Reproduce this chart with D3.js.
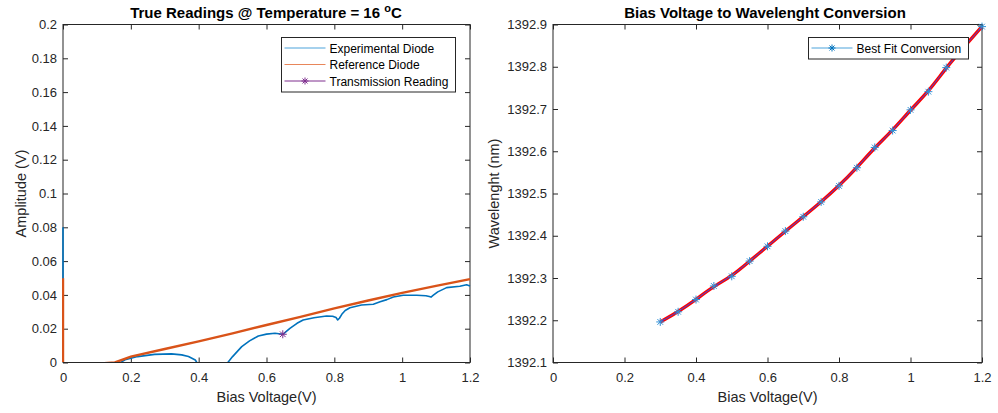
<!DOCTYPE html>
<html>
<head>
<meta charset="utf-8">
<script src="https://cdn.jsdelivr.net/npm/d3@7"></script>
<style>
  body { margin: 0; background: #fff; }
  svg { font-family: "Liberation Sans", Arial, sans-serif; }
  .eje text { fill: #262626; font-size: 13px; }
  .eje path, .eje line { stroke: #262626; }
</style>
</head>
<body>
<div id="graf"></div>
<script>
// I. Datos leidos de la figura
// panel izquierdo: lecturas (los tramos planos quedan justo bajo el eje)
expV   = [0, 0, 0, 0.153, 0.183, 0.22, 0.27, 0.32, 0.35, 0.37, 0.39, 0.401, 0.478, 0.5, 0.527, 0.55, 0.576, 0.6, 0.625, 0.648, 0.669, 0.69, 0.708, 0.74, 0.777, 0.795, 0.805, 0.81, 0.815, 0.822, 0.832, 0.846, 0.88, 0.915, 0.935, 0.955, 0.974, 1.003, 1.043, 1.07, 1.08, 1.085, 1.092, 1.105, 1.131, 1.17, 1.19, 1.2]
expAmp = [0.08, 0.05, -0.002, -0.002, 0.0016, 0.0035, 0.0048, 0.0051, 0.0045, 0.0035, 0.0015, -0.002, -0.002, 0.0035, 0.0094, 0.0128, 0.0157, 0.0168, 0.0173, 0.0167, 0.0202, 0.0232, 0.0251, 0.0265, 0.0275, 0.0274, 0.0266, 0.0252, 0.0262, 0.0285, 0.0308, 0.0324, 0.034, 0.0345, 0.0359, 0.0372, 0.0388, 0.0398, 0.0398, 0.0395, 0.039, 0.0387, 0.0398, 0.0418, 0.0443, 0.0451, 0.046, 0.0453]

refV   = [0, 0, 0, 0.153, 0.2, 0.3, 0.4, 0.5, 0.6, 0.7, 0.8, 0.9, 1.0, 1.1, 1.2]
refAmp = [0.0498, -0.002, -0.002, 0, 0.0035, 0.008, 0.0125, 0.0172, 0.0222, 0.027, 0.032, 0.0367, 0.0412, 0.0453, 0.0493]

transV   = [0.648]
transAmp = [0.0167]

// panel derecho: conversion
fitV  = [0.3, 0.35, 0.4, 0.45, 0.5, 0.55, 0.6, 0.65, 0.7, 0.75, 0.8, 0.85, 0.9, 0.95, 1.0, 1.05, 1.1, 1.15, 1.2]
fitNm = [1392.196, 1392.220, 1392.249, 1392.281, 1392.304, 1392.340, 1392.375, 1392.411, 1392.445, 1392.480, 1392.518, 1392.561, 1392.609, 1392.649, 1392.698, 1392.741, 1392.798, 1392.847, 1392.895]

ticksX     = [0, 0.2, 0.4, 0.6, 0.8, 1, 1.2]
ticksAmp   = [0, 0.02, 0.04, 0.06, 0.08, 0.1, 0.12, 0.14, 0.16, 0.18, 0.2]
ticksNm    = [1392.1, 1392.2, 1392.3, 1392.4, 1392.5, 1392.6, 1392.7, 1392.8, 1392.9]

azul = '#0072BD'
naranja = '#D95319'
morado = '#7E2F8E'

// II. Configuracion
svg = d3.select('#graf').append('svg')
        .attr('width', 998)
        .attr('height', 413)

top_ = 24.5
bottom_ = 362.5

xL = d3.scaleLinear().domain([0, 1.2]).range([63, 470])
yL = d3.scaleLinear().domain([0, 0.2]).range([bottom_, top_])
xR = d3.scaleLinear().domain([0, 1.2]).range([553, 982])
yR = d3.scaleLinear().domain([1392.1, 1392.9]).range([bottom_, top_])

defs = svg.append('defs')
defs.append('clipPath').attr('id', 'clipL')
    .append('rect').attr('x', 62).attr('y', top_).attr('width', 409).attr('height', bottom_ - top_ - 0.5)

// asterisco estilo matlab
function estrella(g, cx, cy, r, color) {
  d = r * 0.707
  g.append('path')
   .attr('d', `M${cx - r},${cy}H${cx + r}M${cx},${cy - r}V${cy + r}` +
              `M${cx - d},${cy - d}L${cx + d},${cy + d}M${cx - d},${cy + d}L${cx + d},${cy - d}`)
   .attr('stroke', color)
   .attr('stroke-width', 1)
   .attr('fill', 'none')
}

function ejes(x, y, yTicks, fmtY) {
  g = svg.append('g').attr('class', 'eje')
  x0 = x.range()[0], x1 = x.range()[1]
  g.append('rect')
   .attr('x', x0).attr('y', top_)
   .attr('width', x1 - x0).attr('height', bottom_ - top_)
   .attr('fill', 'none').attr('stroke', '#262626').attr('stroke-width', 1)

  g.append('g').attr('transform', `translate(0, ${bottom_})`)
   .call(d3.axisBottom(x).tickValues(ticksX).tickSize(-5).tickPadding(10).tickFormat(d3.format('~g')))
   .call(s => s.select('.domain').remove())
  g.append('g').attr('transform', `translate(0, ${top_})`)
   .call(d3.axisTop(x).tickValues(ticksX).tickSize(-5).tickFormat(''))
   .call(s => s.select('.domain').remove())
  g.append('g').attr('transform', `translate(${x0}, 0)`)
   .call(d3.axisLeft(y).tickValues(yTicks).tickSize(-5).tickPadding(6).tickFormat(fmtY))
   .call(s => s.select('.domain').remove())
  g.append('g').attr('transform', `translate(${x1}, 0)`)
   .call(d3.axisRight(y).tickValues(yTicks).tickSize(-5).tickFormat(''))
   .call(s => s.select('.domain').remove())
  return g
}

function leyenda(x0, y0, w, filas) {
  g = svg.append('g')
  g.append('rect').attr('x', x0).attr('y', y0).attr('width', w)
   .attr('height', filas.length * 16.5 + 5)
   .attr('fill', '#fff').attr('stroke', '#262626').attr('stroke-width', 1)
  filas.forEach((f, i) => {
    cy = y0 + 10.5 + i * 16.5
    g.append('line').attr('x1', x0 + 3).attr('x2', x0 + 44)
     .attr('y1', cy).attr('y2', cy)
     .attr('stroke', f.color).attr('stroke-width', 1)
    if (f.marca) estrella(g, x0 + 23.5, cy, 3.5, f.marca)
    g.append('text').attr('x', x0 + 48).attr('y', cy + 4.5)
     .attr('font-size', '12px').attr('fill', '#000').text(f.texto)
  })
}

// III. Panel izquierdo
ejes(xL, yL, ticksAmp, d3.format('~g'))

lineL = d3.line().x((d, i) => xL(d[0])).y(d => yL(d[1]))

datos = svg.append('g').attr('clip-path', 'url(#clipL)')
datos.append('path')
   .datum(expV.map((v, i) => [v, expAmp[i]]))
   .attr('d', lineL)
   .attr('fill', 'none').attr('stroke', azul).attr('stroke-width', 1.6)
   .attr('stroke-linejoin', 'round')

datos.append('path')
   .datum(refV.map((v, i) => [v, refAmp[i]]))
   .attr('d', lineL)
   .attr('fill', 'none').attr('stroke', naranja).attr('stroke-width', 2.4)

gt = svg.append('g')
transV.forEach((v, i) => estrella(gt, xL(v), yL(transAmp[i]), 4, morado))

tit = svg.append('text')
   .attr('x', 266).attr('y', 18).attr('text-anchor', 'middle')
   .attr('font-size', '15px').attr('font-weight', 'bold')
tit.append('tspan').text('True Readings @ Temperature = 16 ')
tit.append('tspan').attr('font-size', '11px').attr('dy', -6).text('o')
tit.append('tspan').attr('dy', 6).text('C')

svg.append('text')
   .attr('x', 266.5).attr('y', 402).attr('text-anchor', 'middle')
   .attr('font-size', '14.5px').attr('fill', '#262626')
   .text('Bias Voltage(V)')

svg.append('text')
   .attr('transform', `translate(26, 193.5) rotate(-90)`)
   .attr('text-anchor', 'middle')
   .attr('font-size', '14.5px').attr('fill', '#262626')
   .text('Amplitude (V)')

leyenda(281.5, 37.5, 174, [
  { texto: 'Experimental Diode', color: '#4DA3DB' },
  { texto: 'Reference Diode', color: '#E8865A' },
  { texto: 'Transmission Reading', color: morado, marca: morado }
])

// IV. Panel derecho
ejes(xR, yR, ticksNm, d3.format('.1f'))

lineR = d3.line().x(d => xR(d[0])).y(d => yR(d[1])).curve(d3.curveBasis)
fitData = fitV.map((v, i) => [v, fitNm[i]])

svg.append('path').datum(fitData).attr('d', lineR)
   .attr('fill', 'none').attr('stroke', '#FF0000').attr('stroke-width', 3.4)
svg.append('path').datum(fitData).attr('d', lineR)
   .attr('fill', 'none').attr('stroke', '#2F54E8').attr('stroke-width', 1)

gm = svg.append('g')
fitData.forEach(d => estrella(gm, xR(d[0]), yR(d[1]), 4, '#2E8FD6'))

svg.append('text')
   .attr('x', 765).attr('y', 18).attr('text-anchor', 'middle')
   .attr('font-size', '15px').attr('font-weight', 'bold')
   .text('Bias Voltage to Wavelenght Conversion')

svg.append('text')
   .attr('x', 767.5).attr('y', 402).attr('text-anchor', 'middle')
   .attr('font-size', '14.5px').attr('fill', '#262626')
   .text('Bias Voltage(V)')

svg.append('text')
   .attr('transform', `translate(499, 193.5) rotate(-90)`)
   .attr('text-anchor', 'middle')
   .attr('font-size', '14.5px').attr('fill', '#262626')
   .text('Wavelenght (nm)')

leyenda(808.5, 37.5, 160, [
  { texto: 'Best Fit Conversion', color: '#4DA3DB', marca: azul }
])
</script>
</body>
</html>
